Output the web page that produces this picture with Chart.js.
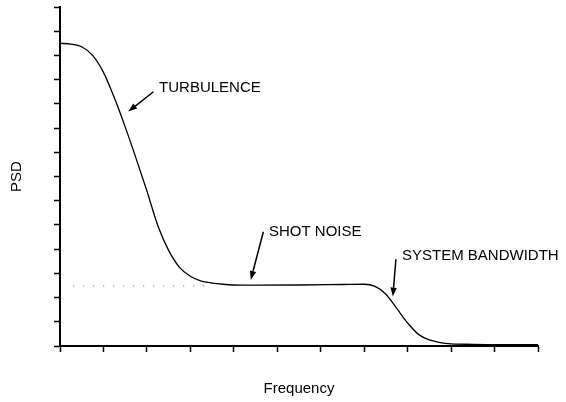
<!DOCTYPE html>
<html>
<head>
<meta charset="utf-8">
<script src="https://cdn.jsdelivr.net/npm/chart.js@4.4.1/dist/chart.umd.min.js"></script>
<style>
  html, body { margin: 0; padding: 0; background: #fff; }
  #wrap { width: 566px; height: 402px; }
</style>
</head>
<body>
<div id="wrap"><canvas id="c" width="566" height="402"></canvas></div>
<script>
// ---- data ----
const psdX = [0, 0.25, 0.5, 0.75, 1.0, 1.25, 1.5, 1.75, 2.0, 2.25, 2.5, 2.75, 3.0, 3.25, 3.5, 3.75, 4.0, 4.5, 5.5, 6.5, 7.0, 7.25, 7.5, 7.75, 8.0, 8.25, 8.5, 8.75, 9.0, 9.5, 10, 11];
const psdY = [12.5, 12.47, 12.36, 12.0, 11.3, 10.25, 9.05, 7.75, 6.4, 4.98, 3.95, 3.25, 2.88, 2.68, 2.6, 2.55, 2.52, 2.51, 2.52, 2.54, 2.55, 2.46, 2.14, 1.55, 0.95, 0.48, 0.25, 0.14, 0.09, 0.07, 0.06, 0.06];
const noiseX = [0.3, 3.5];
const noiseY = [2.48, 2.48];
const xMin = 0, xMax = 11, yMin = 0, yMax = 14;

// annotations: label text, label anchor (data units), arrow start and tip (data units)
const labelTexts = ['TURBULENCE', 'SHOT NOISE', 'SYSTEM BANDWIDTH'];
const labelX = [2.28, 4.81, 7.87];
const labelY = [10.66, 4.71, 3.72];
const arrowFromX = [2.15, 4.68, 7.73];
const arrowFromY = [10.50, 4.72, 3.58];
const arrowToX = [1.57, 4.39, 7.66];
const arrowToY = [9.68, 2.73, 2.04];

const FONT = '"Liberation Sans", Arial, Helvetica, sans-serif';

const annotPlugin = {
  id: 'annot',
  afterDatasetsDraw(chart) {
    const ctx = chart.ctx;
    const xs = chart.scales.x, ys = chart.scales.y;
    ctx.save();
    ctx.fillStyle = '#000';
    ctx.strokeStyle = '#000';
    ctx.font = '15px ' + FONT;
    ctx.textBaseline = 'middle';
    ctx.textAlign = 'left';
    for (let i = 0; i < labelTexts.length; i++) {
      ctx.fillText(labelTexts[i], xs.getPixelForValue(labelX[i]), ys.getPixelForValue(labelY[i]));
      const x1 = xs.getPixelForValue(arrowFromX[i]), y1 = ys.getPixelForValue(arrowFromY[i]);
      const x2 = xs.getPixelForValue(arrowToX[i]), y2 = ys.getPixelForValue(arrowToY[i]);
      const ang = Math.atan2(y2 - y1, x2 - x1);
      const hl = 9, hw = 3.2;
      const bx = x2 - hl * Math.cos(ang), by = y2 - hl * Math.sin(ang);
      ctx.lineWidth = 1.5;
      ctx.beginPath();
      ctx.moveTo(x1, y1);
      ctx.lineTo(bx, by);
      ctx.stroke();
      ctx.beginPath();
      ctx.moveTo(x2, y2);
      ctx.lineTo(bx + hw * Math.sin(ang), by - hw * Math.cos(ang));
      ctx.lineTo(bx - hw * Math.sin(ang), by + hw * Math.cos(ang));
      ctx.closePath();
      ctx.fill();
    }
    ctx.restore();
  }
};

const toPts = (xa, ya) => xa.map((v, i) => ({ x: v, y: ya[i] }));

new Chart(document.getElementById('c'), {
  type: 'line',
  data: {
    datasets: [
      {
        label: 'PSD',
        data: toPts(psdX, psdY),
        borderColor: '#000',
        borderWidth: 1.3,
        pointRadius: 0,
        cubicInterpolationMode: 'monotone',
        fill: false
      },
      {
        label: 'noise level',
        data: toPts(noiseX, noiseY),
        borderColor: '#777',
        borderWidth: 1,
        borderDash: [1.2, 8.8],
        pointRadius: 0,
        fill: false
      }
    ]
  },
  options: {
    responsive: false,
    animation: false,
    devicePixelRatio: 1,
    layout: { padding: { top: 7, right: 28, bottom: 0, left: 0 } },
    plugins: { legend: { display: false }, tooltip: { enabled: false }, title: { display: false } },
    scales: {
      x: {
        type: 'linear',
        min: xMin, max: xMax,
        ticks: { display: false, stepSize: 1 },
        grid: { drawOnChartArea: false, drawTicks: true, tickLength: 6, tickColor: '#000', tickWidth: 1.5 },
        border: { display: true, color: '#000', width: 2 },
        title: { display: true, text: 'Frequency', color: '#000', font: { family: FONT, size: 15 }, padding: { top: 27.5, bottom: 4.5 } }
      },
      y: {
        type: 'linear',
        min: yMin, max: yMax,
        ticks: { display: false, stepSize: 1 },
        grid: { drawOnChartArea: false, drawTicks: true, tickLength: 6, tickColor: '#000', tickWidth: 1.5 },
        border: { display: true, color: '#000', width: 2 },
        title: { display: true, text: 'PSD', color: '#000', font: { family: FONT, size: 15 }, padding: { top: 7.7, bottom: 28.3 } }
      }
    }
  },
  plugins: [annotPlugin]
});
</script>
</body>
</html>
